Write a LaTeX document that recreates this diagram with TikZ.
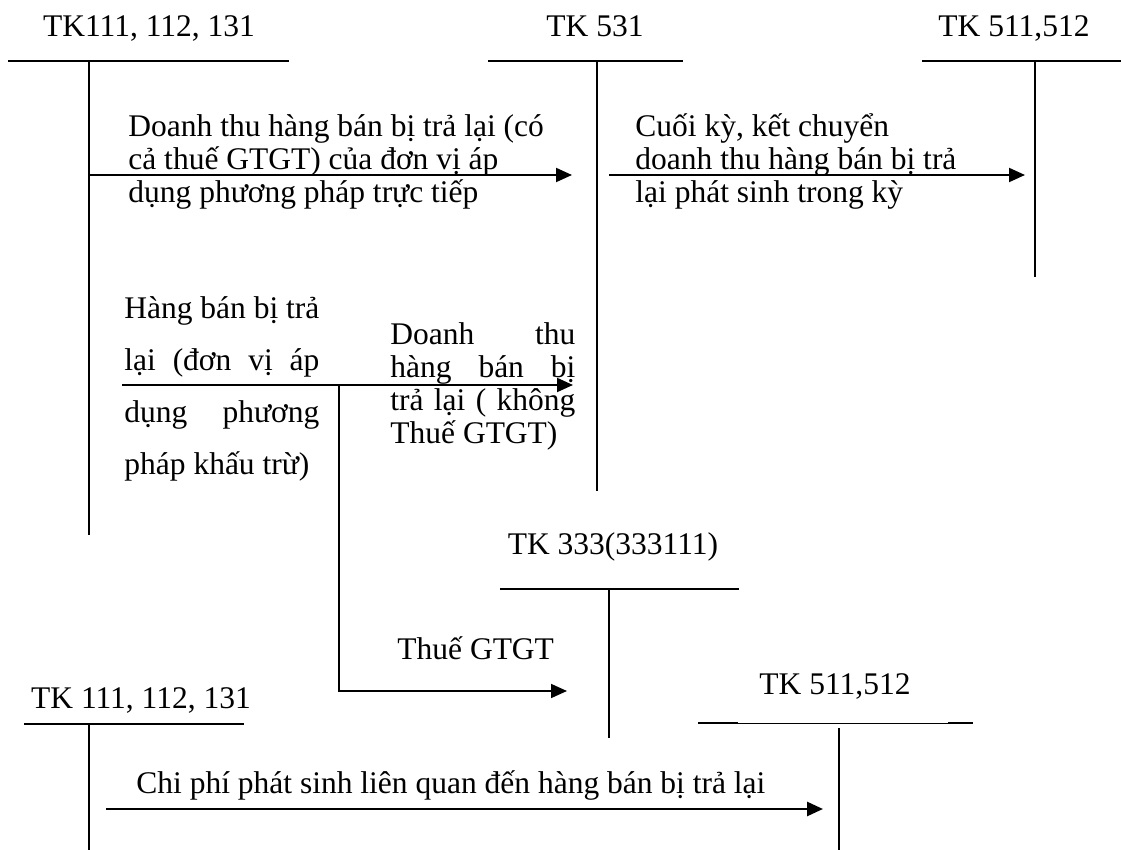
\documentclass[tikz,border=0pt]{standalone}
\usepackage{fontspec}
\setmainfont{Liberation Serif}
\usetikzlibrary{arrows.meta}
\newcommand{\spreadln}[2]{\makebox[#1][s]{#2}}
\tikzset{
  acct/.style    ={line width=0.85pt},
  stem/.style    ={line width=0.7pt},
  thinacct/.style={line width=0.35pt},
  post/.style    ={-{Triangle[length=8pt,width=7pt]}, line width=1pt},
  postB/.style   ={-{Triangle[length=8pt,width=7pt]}, line width=1.35pt},
  acctlbl/.style ={anchor=base, inner sep=0pt,
                   font=\fontsize{15.75}{16.5}\selectfont},
  note/.style    ={anchor=base west, inner sep=0pt,
                   font=\fontsize{15.75}{16.5}\selectfont},
  wnote/.style   ={anchor=base west, inner sep=0pt,
                   font=\fontsize{15.75}{26}\selectfont},
}
\begin{document}
\begin{tikzpicture}[x=0.5pt,y=-0.5pt]
  \useasboundingbox (0,0) rectangle (1121,850);
  % T-accounts
  \node[acctlbl] (l111a) at (149,37) {TK111, 112, 131};
  \coordinate (h111aL) at (8,61);   \coordinate (h111aR) at (289,61);
  \coordinate (s111aT) at (89,61);  \coordinate (s111aB) at (89,535);
  \draw[acct] (h111aL) -- (h111aR);
  \draw[stem] (s111aT) -- (s111aB);

  \node[acctlbl] (l531) at (595,37) {TK 531};
  \coordinate (h531L) at (488,61);  \coordinate (h531R) at (683,61);
  \coordinate (s531T) at (597,61);  \coordinate (s531B) at (597,491);
  \draw[acct] (h531L) -- (h531R);
  \draw[stem] (s531T) -- (s531B);

  \node[acctlbl] (l511a) at (1014,37) {TK 511,512};
  \coordinate (h511aL) at (922,61); \coordinate (h511aR) at (1121,61);
  \coordinate (s511aT) at (1035,61); \coordinate (s511aB) at (1035,277);
  \draw[acct] (h511aL) -- (h511aR);
  \draw[stem] (s511aT) -- (s511aB);

  \node[acctlbl] (l333) at (613,555) {TK 333(333111)};
  \coordinate (h333L) at (500,589); \coordinate (h333R) at (739,589);
  \coordinate (s333T) at (609,589); \coordinate (s333B) at (609,738);
  \draw[acct] (h333L) -- (h333R);
  \draw[stem] (s333T) -- (s333B);

  \node[acctlbl] (l111b) at (141,708) {TK 111, 112, 131};
  \coordinate (h111bL) at (24,724); \coordinate (h111bR) at (244,724);
  \coordinate (s111bT) at (89,724); \coordinate (s111bB) at (89,850);
  \draw[acct] (h111bL) -- (h111bR);
  \draw[stem] (s111bT) -- (s111bB);

  \node[acctlbl] (l511b) at (835,695) {TK 511,512};
  \coordinate (h511bL) at (698,723); \coordinate (h511bM) at (738,723);
  \coordinate (h511bN) at (948,723); \coordinate (h511bR) at (973,723);
  \coordinate (s511bT) at (839,728); \coordinate (s511bB) at (839,850);
  \draw[acct] (h511bL) -- (h511bM);
  \draw[thinacct] (h511bM) -- (h511bN);
  \draw[acct] (h511bN) -- (h511bR);
  \draw[stem] (s511bT) -- (s511bB);

  % postings
  \coordinate (p1a) at (89,175);   \coordinate (p1b) at (572,175);
  \draw[post] (p1a) -- (p1b);
  \node[note] (t1) at (128,137) {\parbox[t]{230pt}{Doanh thu hàng bán bị trả lại (có\\
    cả thuế GTGT) của đơn vị áp\\ dụng phương pháp trực tiếp}};

  \coordinate (p2a) at (609,175);  \coordinate (p2b) at (1025,175);
  \draw[post] (p2a) -- (p2b);
  \node[note] (t2) at (635,137) {\parbox[t]{200pt}{Cuối kỳ, kết chuyển\\
    doanh thu hàng bán bị trả\\ lại phát sinh trong kỳ}};

  \coordinate (p3a) at (122,385);  \coordinate (p3b) at (573,385);
  \coordinate (fork) at (339,385);
  \draw[post] (p3a) -- (p3b);
  \node[wnote] (t3) at (124,319) {\parbox[t]{100pt}{\spreadln{97.5pt}{Hàng bán bị trả}\\
    \spreadln{97.5pt}{lại (đơn vị áp}\\ \spreadln{97.5pt}{dụng phương}\\ pháp khấu trừ)}};
  \node[note] (t3b) at (390,345) {\parbox[t]{95pt}{\spreadln{92.5pt}{Doanh thu}\\
    \spreadln{92.5pt}{hàng bán bị}\\ \spreadln{92.5pt}{trả lại ( không}\\ Thuế GTGT)}};

  \coordinate (p4b) at (567,691);
  \draw[post, line width=0.9pt] (fork) |- (p4b);
  \node[note] (t4) at (397,660) {Thuế GTGT};

  \coordinate (p5a) at (106,809);  \coordinate (p5b) at (823,809);
  \draw[postB] (p5a) -- (p5b);
  \node[note] (t5) at (136,793) {Chi phí phát sinh liên quan đến hàng bán bị trả lại};
\end{tikzpicture}
\end{document}
